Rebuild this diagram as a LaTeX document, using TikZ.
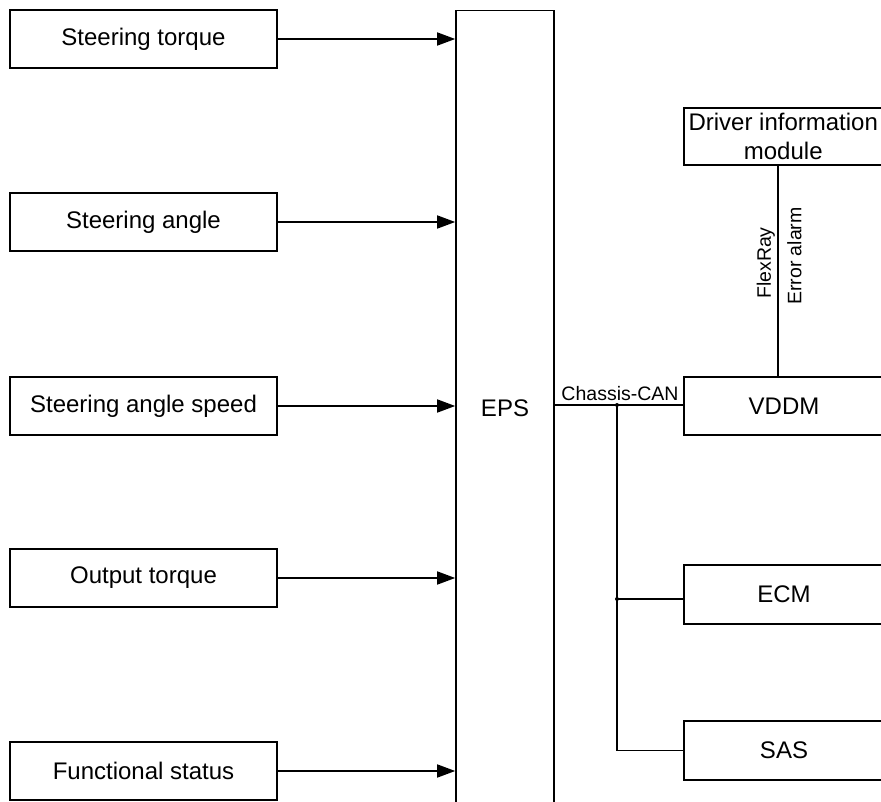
\documentclass[tikz,border=0pt]{standalone}
\usepackage{fontspec}
\setmainfont{Liberation Sans}
\usetikzlibrary{arrows.meta}
\begin{document}
\begin{tikzpicture}[x=1pt,y=-1pt,
  box/.style={draw,line width=1.6pt,rectangle,inner sep=0pt,font=\fontsize{24}{29}\selectfont,align=center},
  leftbox/.style={box,minimum width=267pt,minimum height=58pt},
  rightbox/.style={box,minimum width=200pt,minimum height=58pt},
  conn/.style={line width=1.6pt},
  arr/.style={conn,-{Triangle[length=18pt,width=13pt]}},
  small/.style={font=\fontsize{19.5}{22}\selectfont,inner sep=1pt}]
\clip (0,0) rectangle (881,802);
\useasboundingbox (0,0) rectangle (881,802);
\fill[white] (0,0) rectangle (881,802);
% left boxes
\node[leftbox] (st)  at (143.5,39)  {Steering torque};
\node[leftbox] (sa)  at (143.5,222) {Steering angle};
\node[leftbox] (sas) at (143.5,406) {Steering angle speed};
\node[leftbox] (ot)  at (143.5,578) {Output torque};
\node[leftbox] (fs)  at (143.5,771) {Functional status};
% EPS
\node[box,minimum width=98pt,minimum height=793pt] (eps) at (505,407) {};
\node[font=\fontsize{24}{29}\selectfont] (epsl) at (505,408) {EPS};
% arrows
\foreach \n in {st,sa,sas,ot,fs}
  \draw[arr] (\n.east) -- (\n.east -| eps.west);
% right boxes
\node[rightbox,minimum width=198.5pt,minimum height=57pt] (dim) at (783.25,136.5) {Driver information\\module};
\node[rightbox] (vddm) at (784,406) {VDDM};
\node[rightbox,minimum height=59pt] (ecm) at (784,594.5) {ECM};
\node[rightbox,minimum height=59pt] (sasm) at (784,750.5) {SAS};
% chassis CAN bus
\coordinate (j1) at (617,405);
\coordinate (j2) at (617,599);
\draw[conn] (eps.east |- j1) -- (vddm.west |- j1);
\node[small,anchor=south] (can) at (620,402) {Chassis-CAN};
\draw[conn] (j1) -- (j1 |- sasm.west) -- (sasm.west);
\draw[conn] (j2) -- (ecm.west |- j2);
\fill (j1) circle (2pt);
\fill (j2) circle (2pt);
% FlexRay
\draw[conn] (dim.south -| 778,0) -- (vddm.north -| 778,0);
\node[small,rotate=90,anchor=south] (fr) at (776,263) {FlexRay};
\node[small,rotate=90,anchor=north] (ea) at (786,256) {Error alarm};
\end{tikzpicture}
\end{document}
